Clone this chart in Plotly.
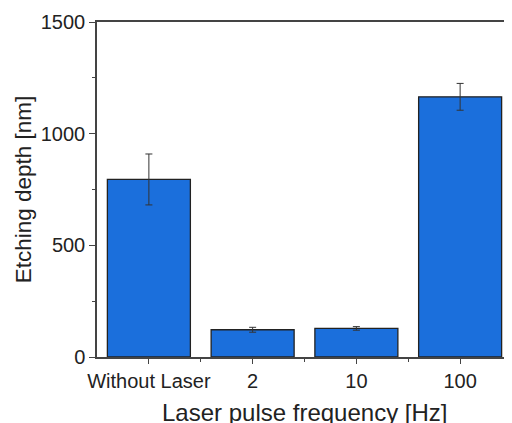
import plotly.graph_objects as go

categories = ["Without Laser", "2", "10", "100"]
depth_nm = [795, 122, 128, 1165]
depth_err = [114, 11, 8, 60]
y_ticks = [0, 500, 1000, 1500]
y_minor = [250, 750, 1250]

xpos = list(range(len(categories)))
x_minor = [i + 0.5 for i in xpos[:-1]]

fig = go.Figure()
fig.add_trace(go.Bar(
    x=xpos, y=depth_nm, width=0.8,
    marker=dict(color="#1b6fdc", line=dict(color="#222222", width=1.3)),
    error_y=dict(type="data", array=depth_err, visible=True,
                 color="#333333", thickness=1, width=3.5),
))

font = "Liberation Sans, Arial, sans-serif"
# page body has an 8px margin, so the figure is offset by 8px right and down
fig.update_layout(
    width=504, height=415,
    margin=dict(l=89, r=0, t=14, b=66),
    paper_bgcolor="white", plot_bgcolor="white",
    showlegend=False,
    font=dict(family=font, color="#222222"),
    annotations=[dict(
        text="Laser pulse frequency [Hz]", xref="paper", yref="paper",
        x=0.5, y=0, xanchor="center", yanchor="top", yshift=-40,
        showarrow=False, font=dict(size=24, color="#222222"),
    )],
)
fig.update_xaxes(
    range=[-0.5, 3.5],
    tickmode="array", tickvals=xpos, ticktext=categories,
    ticks="outside", ticklen=5, tickwidth=1.2, tickcolor="#444444",
    minor=dict(tickmode="array", tickvals=x_minor, ticks="outside",
               ticklen=3, tickwidth=1.2, tickcolor="#444444"),
    showline=True, linecolor="#444444", linewidth=1.5, mirror=True,
    showgrid=False, zeroline=False, automargin=False,
    tickfont=dict(size=20, color="#222222"),
)
fig.update_yaxes(
    range=[0, 1500],
    tickmode="array", tickvals=y_ticks,
    ticks="outside", ticklen=6, tickwidth=1.2, tickcolor="#444444",
    minor=dict(tickmode="array", tickvals=y_minor, ticks="outside",
               ticklen=3, tickwidth=1.2, tickcolor="#444444"),
    showline=True, linecolor="#444444", linewidth=1.5,
    showgrid=False, zeroline=False, automargin=False,
    tickfont=dict(size=20, color="#222222"),
    title=dict(text="Etching depth [nm]", font=dict(size=22.5, color="#222222"), standoff=3),
)

fig.write_html("out.html")
